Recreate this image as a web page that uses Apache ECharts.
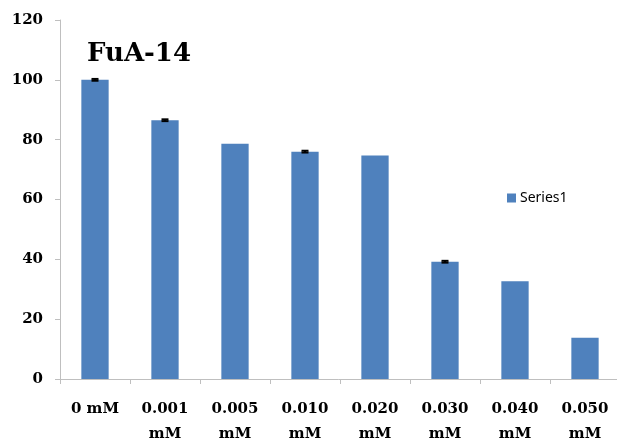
<!DOCTYPE html>
<html>
<head>
<meta charset="utf-8">
<script src="https://cdn.jsdelivr.net/npm/echarts@6/dist/echarts.min.js"></script>
<style>
  html, body { margin: 0; padding: 0; background: #fff; }
  #chart { width: 617px; height: 444px; }
</style>
</head>
<body>
<div id="chart"></div>
<script>
// Concentration groups on the x axis
const categories = ['0 mM', '0.001\nmM', '0.005\nmM', '0.010\nmM', '0.020\nmM', '0.030\nmM', '0.040\nmM', '0.050\nmM'];
// Measured values per concentration
const values = [100, 86.5, 78.6, 76, 74.7, 39.2, 32.7, 13.8];
// Error bar half-widths (0 = none drawn)
const errors = [0.3, 0.3, 0, 0.3, 0, 0.3, 0, 0];
// Y axis range
const yMin = 0, yMax = 120, yStep = 20;

const errorData = values.map((v, i) => [i, v, errors[i]]).filter(d => d[2] > 0);

const chart = echarts.init(document.getElementById('chart'), null, { renderer: 'canvas' });

chart.setOption({
  animation: false,
  backgroundColor: '#fff',
  title: {
    text: 'FuA-14',
    left: 82,
    top: 36,
    textStyle: { fontFamily: 'DejaVu Serif', fontWeight: 'bold', fontSize: 26, color: '#000' }
  },
  legend: {
    data: ['Series1'],
    left: 502,
    top: 186,
    itemWidth: 9,
    itemHeight: 9,
    itemGap: 5,
    icon: 'rect',
    textStyle: { fontFamily: 'Noto Sans', fontSize: 14, color: '#000', padding: [0, 0, 0, -1] }
  },
  grid: { left: 60, right: -3, top: 20, bottom: 65, containLabel: false, outerBoundsMode: 'none' },
  xAxis: {
    type: 'category',
    data: categories,
    boundaryGap: true,
    axisLine: { lineStyle: { color: '#bfbfbf', width: 1 } },
    axisTick: { show: true, length: 5, lineStyle: { color: '#bfbfbf' } },
    axisLabel: {
      fontFamily: 'DejaVu Serif', fontWeight: 'bold', color: '#000',
      fontSize: 15, lineHeight: 25, margin: 18, interval: 0
    },
    splitLine: { show: false }
  },
  yAxis: {
    type: 'value',
    min: yMin,
    max: yMax,
    interval: yStep,
    axisLine: { show: true, lineStyle: { color: '#bfbfbf', width: 1 } },
    axisTick: { show: true, length: 5, lineStyle: { color: '#bfbfbf' } },
    axisLabel: {
      fontFamily: 'DejaVu Serif', fontWeight: 'bold', color: '#000',
      fontSize: 15, margin: 17
    },
    splitLine: { show: false }
  },
  series: [
    {
      name: 'Series1',
      type: 'bar',
      data: values,
      barWidth: '39%',
      itemStyle: { color: '#4f81bd' }
    },
    {
      name: 'errors',
      type: 'custom',
      data: errorData,
      z: 5,
      renderItem: function (params, api) {
        const x = api.value(0);
        const v = api.value(1);
        const e = api.value(2);
        const hi = api.coord([x, v + e]);
        const lo = api.coord([x, v - e]);
        const half = 3.5;
        const style = { stroke: '#000', lineWidth: 2 };
        return {
          type: 'group',
          children: [
            { type: 'line', shape: { x1: hi[0], y1: hi[1], x2: lo[0], y2: lo[1] }, style: style },
            { type: 'line', shape: { x1: hi[0] - half, y1: hi[1], x2: hi[0] + half, y2: hi[1] }, style: style },
            { type: 'line', shape: { x1: lo[0] - half, y1: lo[1], x2: lo[0] + half, y2: lo[1] }, style: style }
          ]
        };
      }
    }
  ]
});
</script>
</body>
</html>
